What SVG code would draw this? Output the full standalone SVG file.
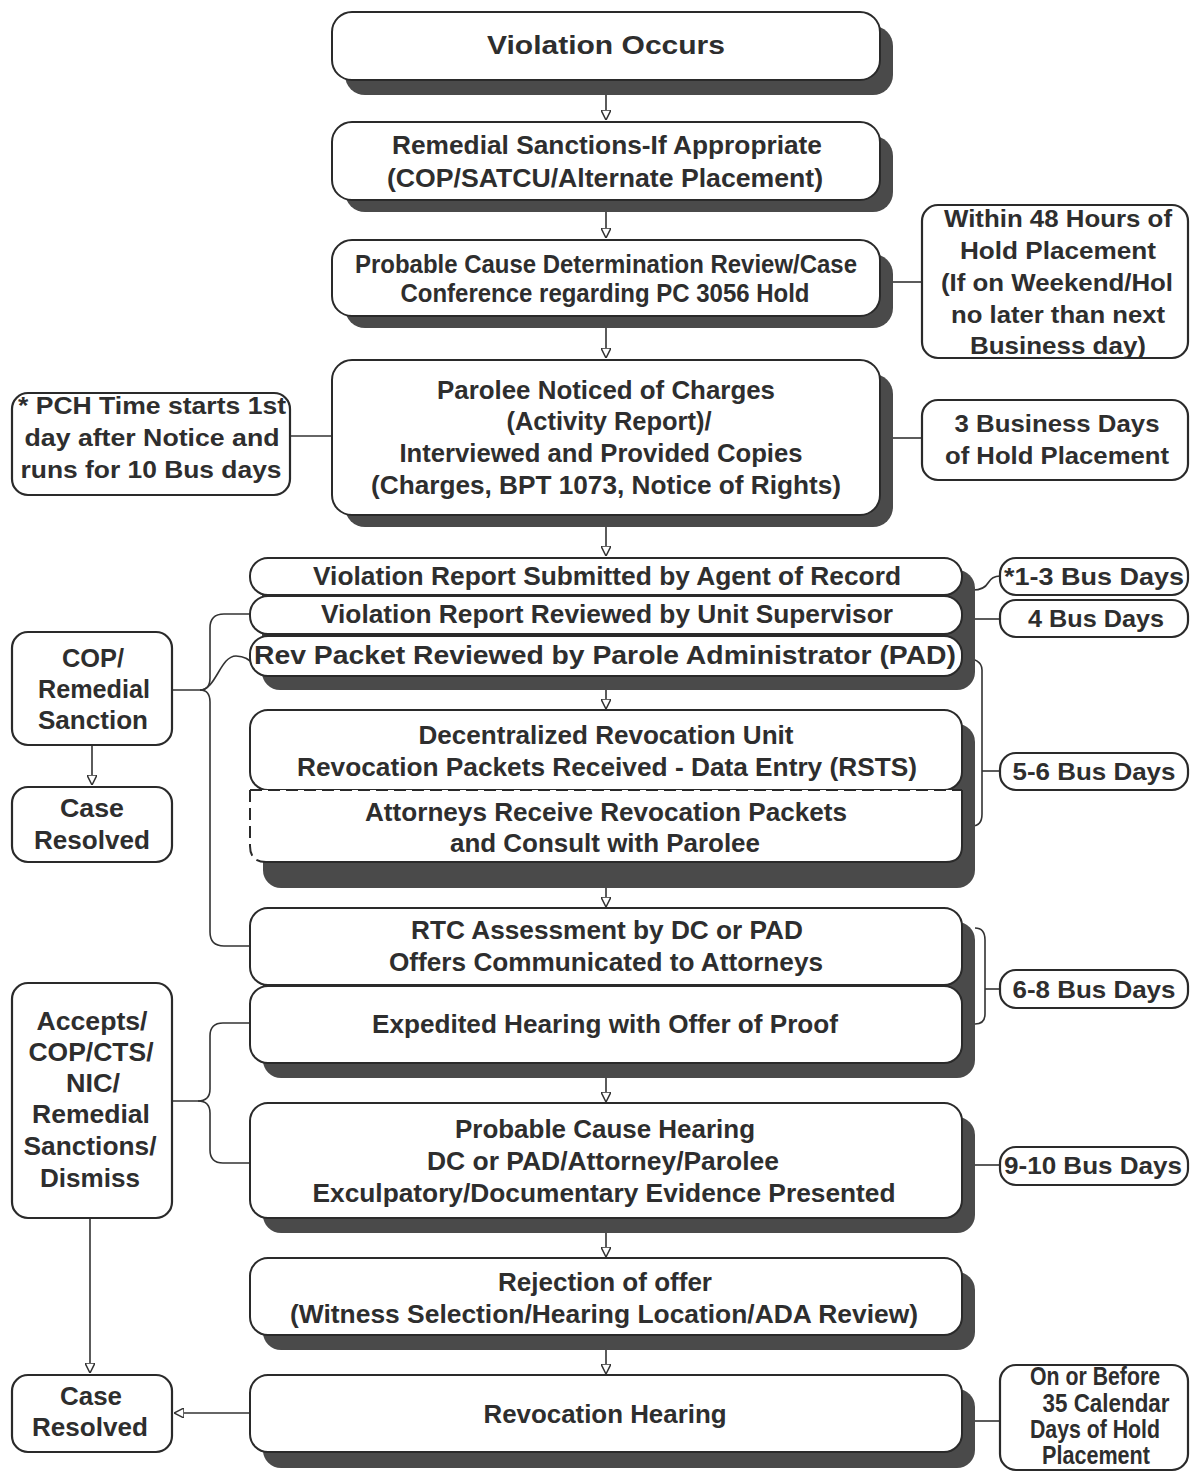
<svg xmlns="http://www.w3.org/2000/svg" width="1191" height="1473" viewBox="0 0 1191 1473">
<defs>
<marker id="arr" viewBox="0 0 10 10" refX="10" refY="5" markerWidth="10" markerHeight="10" markerUnits="userSpaceOnUse" orient="auto">
<path d="M0,0 L10,5 L0,10 z" fill="#fff" stroke="#333" stroke-width="1.5"/>
</marker>
</defs>
<style>
.box{fill:#fff;stroke:#2a2a2a;stroke-width:2}
.sh{fill:#4a4a4a}
.side{fill:#fff;stroke:#2a2a2a;stroke-width:2.2}
.t{font-family:"Liberation Sans",Arial,sans-serif;font-weight:bold;font-size:25px;fill:#2e2e2e;text-anchor:middle}
.s{font-size:24px}
.c{fill:none;stroke:#333;stroke-width:1.6}
</style>
<rect width="1191" height="1473" fill="#fff"/>

<g id="connectors">
<path class="c" d="M606,95 V120" marker-end="url(#arr)"/>
<path class="c" d="M606,212 V238" marker-end="url(#arr)"/>
<path class="c" d="M606,328 V358" marker-end="url(#arr)"/>
<path class="c" d="M606,527 V556" marker-end="url(#arr)"/>
<path class="c" d="M606,690 V709" marker-end="url(#arr)"/>
<path class="c" d="M606,888 V907" marker-end="url(#arr)"/>
<path class="c" d="M606,1078 V1102" marker-end="url(#arr)"/>
<path class="c" d="M606,1233 V1257" marker-end="url(#arr)"/>
<path class="c" d="M606,1350 V1374" marker-end="url(#arr)"/>
<path class="c" d="M893,282 H922"/>
<path class="c" d="M290,436 H332"/>
<path class="c" d="M893,438 H922"/>
<path class="c" d="M973,590 Q984,590 988,583 Q992,576 1000,576"/>
<path class="c" d="M975,619 H1000"/>
<path class="c" d="M962,658 Q982,658 982,670 V814 Q982,826 972,826"/>
<path class="c" d="M982,771 H1000"/>
<path class="c" d="M975,928 Q985,928 985,940 V1014 Q985,1024 975,1024"/>
<path class="c" d="M985,989 H1000"/>
<path class="c" d="M975,1165 H1000"/>
<path class="c" d="M975,1421 H1000"/>
<path class="c" d="M172,690 H200 Q210,690 210,678 V628 Q210,614 224,614 H250"/>
<path class="c" d="M200,690 C216,690 220,656 236,656 Q248,656 256,667"/>
<path class="c" d="M200,690 Q210,690 210,702 V932 Q210,946 224,946 H250"/>
<path class="c" d="M92,745 V785" marker-end="url(#arr)"/>
<path class="c" d="M172,1101 H198 Q210,1101 210,1089 V1036 Q210,1023 223,1023 H250"/>
<path class="c" d="M198,1101 Q210,1101 210,1113 V1150 Q210,1163 223,1163 H250"/>
<path class="c" d="M90,1218 V1373" marker-end="url(#arr)"/>
<path class="c" d="M250,1413 H174" marker-end="url(#arr)"/>
</g>

<g id="n-violation">
<rect class="sh" x="345" y="26" width="548" height="69" rx="20"/>
<rect class="box" x="332" y="12" width="548" height="68" rx="20"/>
<text class="t" x="606" y="54" font-size="29" textLength="238" lengthAdjust="spacingAndGlyphs">Violation Occurs</text>
</g>

<g id="n-remedial">
<rect class="sh" x="345" y="136" width="548" height="76" rx="20"/>
<rect class="box" x="332" y="122" width="548" height="78" rx="20"/>
<text class="t" x="607" y="154" textLength="430" lengthAdjust="spacingAndGlyphs">Remedial Sanctions-If Appropriate</text>
<text class="t" x="605" y="187" textLength="436" lengthAdjust="spacingAndGlyphs">(COP/SATCU/Alternate Placement)</text>
</g>

<g id="n-pcd">
<rect class="sh" x="345" y="254" width="548" height="74" rx="20"/>
<rect class="box" x="332" y="240" width="548" height="76" rx="20"/>
<text class="t" x="606" y="273" font-size="22" textLength="502" lengthAdjust="spacingAndGlyphs">Probable Cause Determination Review/Case</text>
<text class="t" x="605" y="302" font-size="22" textLength="409" lengthAdjust="spacingAndGlyphs">Conference regarding PC 3056 Hold</text>
</g>

<g id="n-48hours">
<rect class="side" x="922" y="205" width="266" height="153" rx="16"/>
<text class="t s" x="1058" y="227" textLength="228" lengthAdjust="spacingAndGlyphs">Within 48 Hours of</text>
<text class="t s" x="1058" y="259" textLength="196" lengthAdjust="spacingAndGlyphs">Hold Placement</text>
<text class="t s" x="1057" y="291" textLength="232" lengthAdjust="spacingAndGlyphs">(If on Weekend/Hol</text>
<text class="t s" x="1058" y="323" textLength="214" lengthAdjust="spacingAndGlyphs">no later than next</text>
<text class="t s" x="1058" y="354" textLength="176" lengthAdjust="spacingAndGlyphs">Business day)</text>
</g>

<g id="n-noticed">
<rect class="sh" x="345" y="374" width="548" height="153" rx="20"/>
<rect class="box" x="332" y="360" width="548" height="155" rx="20"/>
<text class="t" x="606" y="399" textLength="338" lengthAdjust="spacingAndGlyphs">Parolee Noticed of Charges</text>
<text class="t" x="609" y="430" textLength="205" lengthAdjust="spacingAndGlyphs">(Activity Report)/</text>
<text class="t" x="601" y="462" textLength="403" lengthAdjust="spacingAndGlyphs">Interviewed and Provided Copies</text>
<text class="t" x="606" y="494" textLength="470" lengthAdjust="spacingAndGlyphs">(Charges, BPT 1073, Notice of Rights)</text>
</g>

<g id="n-pch">
<rect class="side" x="12" y="393" width="278" height="102" rx="16"/>
<text class="t s" x="152" y="414" textLength="268" lengthAdjust="spacingAndGlyphs">* PCH Time starts 1st</text>
<text class="t s" x="152" y="446" textLength="255" lengthAdjust="spacingAndGlyphs">day after Notice and</text>
<text class="t s" x="151" y="478" textLength="261" lengthAdjust="spacingAndGlyphs">runs for 10 Bus days</text>
</g>

<g id="n-3days">
<rect class="side" x="922" y="400" width="266" height="80" rx="16"/>
<text class="t s" x="1057" y="432" textLength="205" lengthAdjust="spacingAndGlyphs">3 Business Days</text>
<text class="t s" x="1057" y="464" textLength="224" lengthAdjust="spacingAndGlyphs">of Hold Placement</text>
</g>

<g id="stack1-shadow">
<rect class="sh" x="262" y="570" width="713" height="120" rx="18"/>
</g>

<g id="n-vrsubmitted">
<rect class="box" x="250" y="558" width="712" height="37" rx="18"/>
<text class="t" x="607" y="585" textLength="588" lengthAdjust="spacingAndGlyphs">Violation Report Submitted by Agent of Record</text>
</g>

<g id="n-vrreviewed">
<rect class="box" x="250" y="596" width="712" height="38" rx="18"/>
<text class="t" x="607" y="623" textLength="572" lengthAdjust="spacingAndGlyphs">Violation Report Reviewed by Unit Supervisor</text>
</g>

<g id="n-revpacket">
<rect class="box" x="250" y="636" width="712" height="40" rx="18"/>
<text class="t" x="605" y="664" textLength="702" lengthAdjust="spacingAndGlyphs">Rev Packet Reviewed by Parole Administrator (PAD)</text>
</g>

<g id="n-13days">
<rect class="side" x="1000" y="558" width="188" height="37" rx="16"/>
<text class="t s" x="1094" y="585" textLength="180" lengthAdjust="spacingAndGlyphs">*1-3 Bus Days</text>
</g>

<g id="n-4days">
<rect class="side" x="1000" y="600" width="188" height="37" rx="16"/>
<text class="t s" x="1096" y="627" textLength="136" lengthAdjust="spacingAndGlyphs">4 Bus Days</text>
</g>

<g id="n-cop">
<rect class="side" x="12" y="632" width="160" height="113" rx="16"/>
<text class="t" x="93" y="667" textLength="62" lengthAdjust="spacingAndGlyphs">COP/</text>
<text class="t" x="94" y="698" textLength="112" lengthAdjust="spacingAndGlyphs">Remedial</text>
<text class="t" x="93" y="729" textLength="110" lengthAdjust="spacingAndGlyphs">Sanction</text>
</g>

<g id="n-resolved1">
<rect class="side" x="12" y="787" width="160" height="75" rx="16"/>
<text class="t" x="92" y="817" textLength="64" lengthAdjust="spacingAndGlyphs">Case</text>
<text class="t" x="92" y="849" textLength="116" lengthAdjust="spacingAndGlyphs">Resolved</text>
</g>

<g id="stack2-shadow">
<rect class="sh" x="263" y="724" width="712" height="164" rx="18"/>
</g>

<g id="n-decentralized">
<rect class="box" x="250" y="710" width="712" height="80" rx="18"/>
<text class="t" x="606" y="744" textLength="375" lengthAdjust="spacingAndGlyphs">Decentralized Revocation Unit</text>
<text class="t" x="607" y="776" textLength="620" lengthAdjust="spacingAndGlyphs">Revocation Packets Received - Data Entry (RSTS)</text>
</g>

<g id="n-attorneys">
<path d="M250,790 H962 V846 Q962,862 946,862 H266 Q250,862 250,846 Z" fill="#fff"/>
<path d="M962,790 V846 Q962,862 946,862 H266" fill="none" stroke="#2a2a2a" stroke-width="2"/>
<path d="M250,790 H962 M250,790 V846 Q250,862 266,862" fill="none" stroke="#2a2a2a" stroke-width="2" stroke-dasharray="12,6"/>
<text class="t" x="606" y="821" textLength="482" lengthAdjust="spacingAndGlyphs">Attorneys Receive Revocation Packets</text>
<text class="t" x="605" y="852" textLength="310" lengthAdjust="spacingAndGlyphs">and Consult with Parolee</text>
</g>

<g id="n-56days">
<rect class="side" x="1000" y="753" width="188" height="37" rx="16"/>
<text class="t s" x="1094" y="780" textLength="163" lengthAdjust="spacingAndGlyphs">5-6 Bus Days</text>
</g>

<g id="stack3-shadow">
<rect class="sh" x="263" y="922" width="712" height="156" rx="18"/>
</g>

<g id="n-rtc">
<rect class="box" x="250" y="908" width="712" height="77" rx="18"/>
<text class="t" x="607" y="939" textLength="392" lengthAdjust="spacingAndGlyphs">RTC Assessment by DC or PAD</text>
<text class="t" x="606" y="971" textLength="434" lengthAdjust="spacingAndGlyphs">Offers Communicated to Attorneys</text>
</g>

<g id="n-expedited">
<rect class="box" x="250" y="986" width="712" height="77" rx="18"/>
<text class="t" x="605" y="1033" textLength="466" lengthAdjust="spacingAndGlyphs">Expedited Hearing with Offer of Proof</text>
</g>

<g id="n-68days">
<rect class="side" x="1000" y="970" width="188" height="38" rx="16"/>
<text class="t s" x="1094" y="998" textLength="163" lengthAdjust="spacingAndGlyphs">6-8 Bus Days</text>
</g>

<g id="n-accepts">
<rect class="side" x="12" y="983" width="160" height="235" rx="16"/>
<text class="t" x="92" y="1030" textLength="111" lengthAdjust="spacingAndGlyphs">Accepts/</text>
<text class="t" x="91" y="1061" textLength="125" lengthAdjust="spacingAndGlyphs">COP/CTS/</text>
<text class="t" x="93" y="1092" textLength="54" lengthAdjust="spacingAndGlyphs">NIC/</text>
<text class="t" x="91" y="1123" textLength="118" lengthAdjust="spacingAndGlyphs">Remedial</text>
<text class="t" x="90" y="1155" textLength="133" lengthAdjust="spacingAndGlyphs">Sanctions/</text>
<text class="t" x="90" y="1187" textLength="100" lengthAdjust="spacingAndGlyphs">Dismiss</text>
</g>

<g id="n-pch-hearing">
<rect class="sh" x="263" y="1117" width="712" height="116" rx="18"/>
<rect class="box" x="250" y="1103" width="712" height="115" rx="18"/>
<text class="t" x="605" y="1138" textLength="300" lengthAdjust="spacingAndGlyphs">Probable Cause Hearing</text>
<text class="t" x="603" y="1170" textLength="352" lengthAdjust="spacingAndGlyphs">DC or PAD/Attorney/Parolee</text>
<text class="t" x="604" y="1202" textLength="583" lengthAdjust="spacingAndGlyphs">Exculpatory/Documentary Evidence Presented</text>
</g>

<g id="n-910days">
<rect class="side" x="1000" y="1147" width="188" height="38" rx="16"/>
<text class="t s" x="1093" y="1174" textLength="178" lengthAdjust="spacingAndGlyphs">9-10 Bus Days</text>
</g>

<g id="n-rejection">
<rect class="sh" x="263" y="1272" width="712" height="78" rx="18"/>
<rect class="box" x="250" y="1258" width="712" height="77" rx="18"/>
<text class="t" x="605" y="1291" textLength="214" lengthAdjust="spacingAndGlyphs">Rejection of offer</text>
<text class="t" x="604" y="1323" textLength="628" lengthAdjust="spacingAndGlyphs">(Witness Selection/Hearing Location/ADA Review)</text>
</g>

<g id="n-revocation">
<rect class="sh" x="263" y="1389" width="712" height="79" rx="18"/>
<rect class="box" x="250" y="1375" width="712" height="77" rx="18"/>
<text class="t" x="605" y="1423" textLength="243" lengthAdjust="spacingAndGlyphs">Revocation Hearing</text>
</g>

<g id="n-resolved2">
<rect class="side" x="12" y="1375" width="160" height="77" rx="16"/>
<text class="t" x="91" y="1405" textLength="62" lengthAdjust="spacingAndGlyphs">Case</text>
<text class="t" x="90" y="1436" textLength="116" lengthAdjust="spacingAndGlyphs">Resolved</text>
</g>

<g id="n-35days">
<rect class="side" x="1000" y="1365" width="188" height="105" rx="16"/>
<text class="t" x="1095" y="1385" font-size="20" textLength="130" lengthAdjust="spacingAndGlyphs">On or Before</text>
<text class="t" x="1106" y="1412" font-size="20" textLength="127" lengthAdjust="spacingAndGlyphs">35 Calendar</text>
<text class="t" x="1095" y="1438" font-size="20" textLength="130" lengthAdjust="spacingAndGlyphs">Days of Hold</text>
<text class="t" x="1096" y="1464" font-size="20" textLength="108" lengthAdjust="spacingAndGlyphs">Placement</text>
</g>
</svg>
